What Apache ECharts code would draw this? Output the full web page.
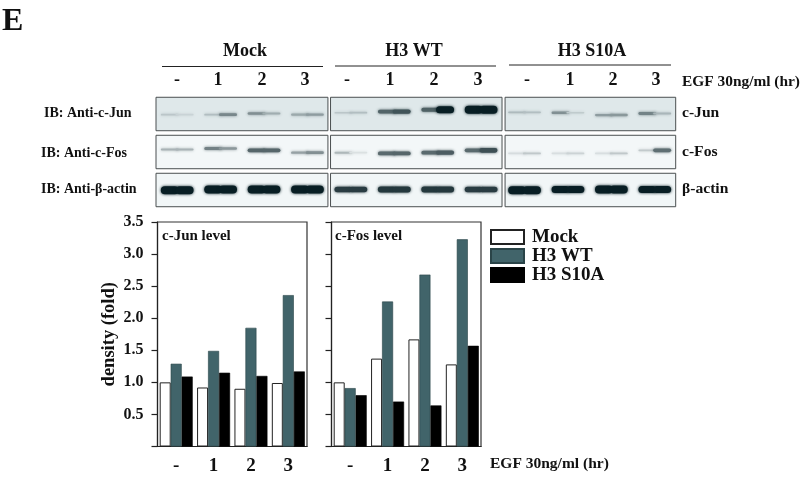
<!DOCTYPE html>
<html><head><meta charset="utf-8">
<style>html,body{margin:0;padding:0;background:#fff}#c{width:800px;height:479px}</style>
<script src="https://cdn.jsdelivr.net/npm/echarts@6/dist/echarts.min.js"></script>
</head><body><div id="c"></div>
<script>
// Densitometry values
const timeLabels = ['-', '1', '2', '3'];
const seriesNames = ['Mock', 'H3 WT', 'H3 S10A'];
const junMock = [1.00, 0.92, 0.90, 0.99];
const junWT = [1.29, 1.49, 1.85, 2.36];
const junS10A = [1.09, 1.15, 1.10, 1.17];
const fosMock = [1.00, 1.37, 1.67, 1.28];
const fosWT = [0.91, 2.26, 2.68, 3.23];
const fosS10A = [0.80, 0.70, 0.64, 1.57];
const yTicks = { min: 0, max: 3.5, step: 0.5 };

// Blot band darkness, two values per lane (left and right half), 12 lanes
const blotJun = [.12,.06, .16,.42, .38,.24, .26,.32,  .12,.16, .58,.66, .6,.92, 1,1,  .18,.16, .38,.1, .32,.34, .44,.2];
const blotFos = [.26,.26, .48,.38, .6,.6, .34,.42,  .24,.06, .58,.6, .58,.64, .58,.7,  .08,.17, .07,.12, .07,.17, .16,.56];
const blotActin = [1,1, 1,1, 1,1, 1,1,  .78,.78, .8,.8, .8,.8, .78,.78,  1,1, .92,.92, 1,1, .92,.92];
const blotRows = [blotJun, blotFos, blotActin];
// Vertical drift of the band in each row's lanes (row units)
const driftJun = [.03,.03,.0,.03, -.02,-.05,-.1,-.1, -.03,-.02,.04,.0];
const driftFos = [-.05,-.08,-.03,.03, .03,.05,.03,-.03, .05,.05,.05,-.03];
const driftActin = [.02,0,0,0, 0,0,0,0, .02,0,0,0];
const blotDrift = [driftJun, driftFos, driftActin];
const panelSpans = [[-0.5, 3.46], [3.52, 7.47], [7.54, 11.47]];
const panelFill = [[223,232,234], [243,247,248], [241,246,247]];

const serif = '"Liberation Serif","Times New Roman",serif';
const ink = '#111';
const bandData = [];
blotRows.forEach((row, r) => row.forEach((v, i) => {
  const lane = Math.floor(i / 2);
  bandData.push([lane + (i % 2 ? 0.17 : -0.17), r + blotDrift[r][lane], v, r]);
}));
const panelData = [];
panelSpans.forEach(s => [0, 1, 2].forEach(r => panelData.push([s[0], s[1], r])));

function text(x, y, t, size, extra) {
  return { type: 'text', x, y, silent: true, z: 20, style: Object.assign({
    text: t, fill: ink, font: 'bold ' + size + 'px ' + serif, textVerticalAlign: 'middle' }, extra || {}) };
}
function rule(x1, x2, y) {
  return { type: 'line', silent: true, z: 20, shape: { x1, y1: y, x2, y2: y }, style: { stroke: '#222', lineWidth: 1 } };
}
const mid = { textAlign: 'center' };
const graphics = [
  text(2, 22, 'E', 32),
  text(245, 51, 'Mock', 18, mid), text(414, 51, 'H3 WT', 18, mid), text(592, 51, 'H3 S10A', 18, mid),
  rule(162, 323, 66.5), rule(335, 496, 66), rule(509, 671, 65),
  text(682, 82, 'EGF 30ng/ml (hr)', 15.4),
  text(44, 113, 'IB: Anti-c-Jun', 14), text(41, 153, 'IB: Anti-c-Fos', 14),
  text(41, 189, 'IB: Anti-\u03b2-actin', 14),
  text(682, 113, 'c-Jun', 15.6), text(682, 152, 'c-Fos', 15.6), text(682, 189, '\u03b2-actin', 15.6),
  text(162, 236, 'c-Jun level', 15), text(335, 236, 'c-Fos level', 15),
  text(490, 464, 'EGF 30ng/ml (hr)', 15.5)
];
const laneTop = [];
[['-', '1', '2', '3'], ['-', '1', '2', '3'], ['-', '1', '2', '3']].forEach(g => laneTop.push(...g));
const blotLaneX = [177, 218, 262, 305, 347, 390, 434, 478, 527, 570, 613, 656];
laneTop.forEach((t, i) => graphics.push(text(blotLaneX[i], 80, t, 18, mid)));

function barAxisX(gridIndex) {
  return { type: 'category', gridIndex, data: timeLabels,
    axisLine: { lineStyle: { color: '#222', width: 1.2 } },
    axisTick: { alignWithLabel: true, length: 6, lineStyle: { color: '#222', width: 1.2 } },
    axisLabel: { fontFamily: serif, fontWeight: 'bold', fontSize: 19, color: ink, margin: 10 } };
}
function barAxisY(gridIndex, labelled) {
  return { type: 'value', gridIndex, min: yTicks.min, max: yTicks.max, interval: yTicks.step,
    name: labelled ? 'density (fold)' : '', nameLocation: 'middle', nameGap: 39, nameRotate: 90,
    nameTextStyle: { fontFamily: serif, fontWeight: 'bold', fontSize: 18.5, color: ink },
    axisLine: { show: true, lineStyle: { color: '#222', width: 1.2 } },
    axisTick: { show: true, length: 6, lineStyle: { color: '#222', width: 1.2 } },
    splitLine: { show: false },
    axisLabel: { show: labelled, fontFamily: serif, fontWeight: 'bold', fontSize: 16, color: ink, margin: 14,
      formatter: v => v === 0 ? '' : v.toFixed(1) } };
}
const barStyles = [
  { color: '#fff', borderColor: '#222', borderWidth: 1 },
  { color: '#41646a', borderColor: '#2a4448', borderWidth: 0.6 },
  { color: '#000', borderColor: '#000', borderWidth: 0.6 }
];
function bars(values, axis) {
  return values.map((d, i) => ({ type: 'bar', name: seriesNames[i], data: d, xAxisIndex: axis, yAxisIndex: axis,
    barWidth: 11, barGap: '0%', itemStyle: barStyles[i], z: 3 }));
}
const chart = echarts.init(document.getElementById('c'), null, { renderer: 'canvas' });
chart.setOption({
  animation: false, backgroundColor: '#fff', tooltip: { show: false },
  graphic: graphics,
  legend: { data: seriesNames, orient: 'vertical', left: 490, top: 227.5, padding: 0, itemGap: 0,
    itemWidth: 33, itemHeight: 14, selectedMode: false, icon: 'rect',
    textStyle: { fontFamily: serif, fontWeight: 'bold', fontSize: 19, lineHeight: 18, color: ink, padding: [0, 0, 0, 3] } },
  grid: [
    { left: 157.5, top: 222, width: 149.5, height: 224.5, show: true, borderColor: '#333', borderWidth: 1.2, backgroundColor: 'transparent' },
    { left: 331.5, top: 222, width: 149.5, height: 224.5, show: true, borderColor: '#333', borderWidth: 1.2, backgroundColor: 'transparent' },
    { left: 155.5, top: 94.5, width: 521, height: 114 }
  ],
  xAxis: [barAxisX(0), barAxisX(1), { type: 'value', gridIndex: 2, min: -0.5, max: 11.5, show: false }],
  yAxis: [barAxisY(0, true), barAxisY(1, false), { type: 'value', gridIndex: 2, min: -0.5, max: 2.5, inverse: true, show: false }],
  series: [
    ...bars([junMock, junWT, junS10A], 0),
    ...bars([fosMock, fosWT, fosS10A], 1),
    { type: 'custom', xAxisIndex: 2, yAxisIndex: 2, z: 1, data: panelData, silent: true,
      renderItem(p, api) {
        const a = api.coord([api.value(0), api.value(2) - 0.44]);
        const b = api.coord([api.value(1), api.value(2) + 0.44]);
        const f = panelFill[api.value(2)];
        return { type: 'rect', shape: { x: a[0] + .5, y: a[1] + .5, width: b[0] - a[0], height: b[1] - a[1] },
          style: { fill: 'rgb(' + f + ')', stroke: '#4a4f50', lineWidth: 1 } };
      } },
    { type: 'custom', xAxisIndex: 2, yAxisIndex: 2, z: 2, data: bandData, silent: true, clip: false,
      renderItem(p, api) {
        const c = api.coord([api.value(0), api.value(1)]);
        const v = api.value(2);
        const h = 1.6 + 6.5 * v * v;
        const t = Math.min(1, v * 1.05 + .04);
        const f = panelFill[api.value(3)], dark = [8, 30, 36];
        const col = 'rgb(' + f.map((b, k) => Math.round(b + (dark[k] - b) * t)) + ')';
        return { type: 'rect', shape: { x: c[0] - 9, y: c[1] - h / 2, width: 18, height: h, r: h / 2 },
          style: { fill: col, shadowBlur: 3, shadowColor: col } };
      } }
  ]
});
</script></body></html>
